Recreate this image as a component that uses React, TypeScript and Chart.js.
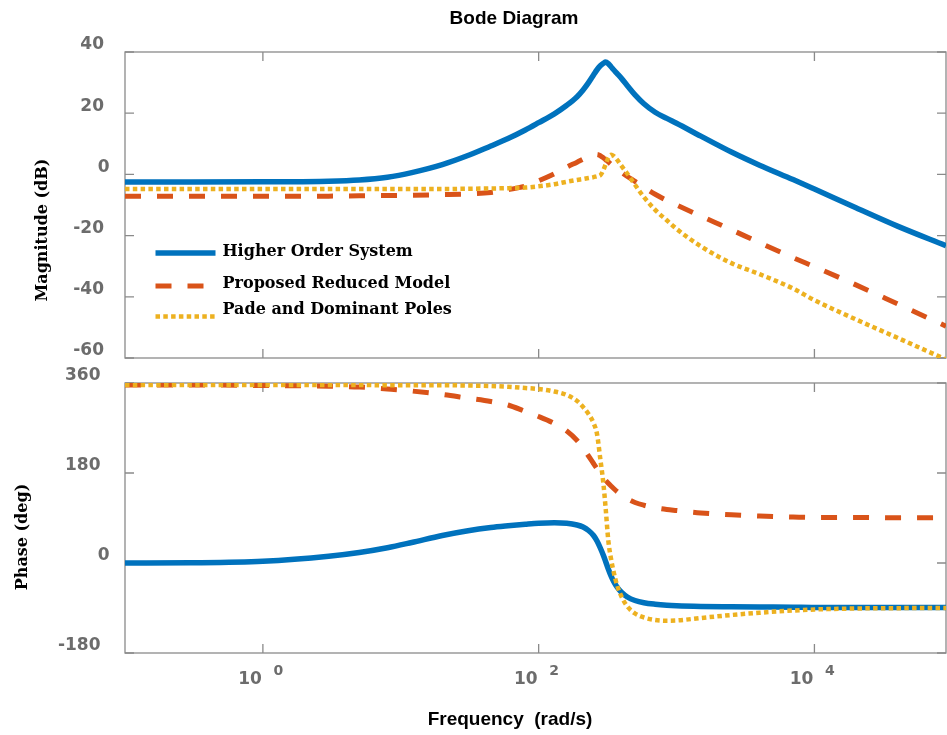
import React, { useEffect, useRef } from 'react';
import { Chart, registerables } from 'chart.js';

Chart.register(...registerables);

// ---------------- DATA ----------------
const frequencies = [
  0.1, 0.3, 1, 3, 5, 8, 12, 20, 30, 45,
  60, 80, 100, 130, 160, 190, 210, 230, 250, 265,
  280, 295, 306, 320, 335, 350, 370, 400, 440, 500,
  580, 700, 850, 1000, 1500, 2500, 4000, 7000, 10000, 20000,
  40000, 90000,
];

const magHigherOrder = [
  -2.5, -2.5, -2.4, -2.2, -1.8, -0.9, 0.6, 3.2, 6.0, 9.3,
  11.7, 14.5, 16.9, 19.8, 22.6, 25.4, 27.6, 30.0, 32.5, 34.2,
  35.5, 36.3, 36.7, 36.2, 35.2, 34.2, 33.0, 31.3, 29.0, 26.0,
  23.1, 20.3, 18.3, 16.7, 12.5, 7.3, 3.0, -1.7, -4.8, -10.9,
  -16.9, -23.3,
];

const magProposed = [
  -7.1, -7.1, -7.1, -7.1, -7.0, -6.9, -6.8, -6.6, -6.4, -5.9,
  -5.0, -3.8, -2.1, 0.2, 2.4, 4.0, 5.0, 5.8, 6.3, 6.5,
  6.1, 5.4, 4.8, 4.1, 3.3, 2.6, 1.7, 0.6, -0.7, -2.3,
  -4.2, -6.5, -8.5, -10.0, -13.6, -18.1, -22.3, -27.2, -30.2, -36.1,
  -42.3, -49.6,
];

const magPade = [
  -4.8, -4.8, -4.8, -4.8, -4.8, -4.8, -4.8, -4.8, -4.7, -4.6,
  -4.5, -4.3, -3.9, -3.2, -2.4, -1.8, -1.5, -1.2, -0.9, -0.6,
  -0.3, 1.5, 3.3, 5.4, 6.4, 6.0, 4.8, 2.7, 0.2, -3.4,
  -7.4, -11.6, -15.0, -17.8, -23.5, -29.0, -32.6, -37.3, -41.1, -47.4,
  -53.4, -60.5,
];

const phaseHigherOrder = [
  0, 0.5, 3.5, 13.5, 21, 30.5, 41, 55, 64, 71,
  74.5, 77.5, 79.5, 80.5, 79.5, 76, 72, 65, 55, 44,
  30, 15, 3, -12, -26, -37, -48, -59, -68, -75,
  -79.5, -82.5, -84.5, -85.5, -86.8, -87.5, -88, -88.5, -89, -89,
  -89, -89,
];

const phaseProposed = [
  356, 356, 355, 353.5, 352, 348, 344, 337, 330, 323,
  316, 303, 293, 279, 264, 245, 230, 214, 199, 188.5,
  179, 171, 165.5, 159.5, 154, 149, 143, 136, 128.5, 121,
  115.5, 110.5, 107, 105, 100, 96.5, 94, 92, 91, 91,
  90.5, 90.5,
];

const phasePade = [
  356, 356, 356, 356, 356, 355.5, 355.5, 355.5, 355, 354,
  352.5, 350, 348, 343, 336, 324, 312, 298, 280, 258,
  208, 158, 110, 45, 8, -18, -44, -68, -87, -101,
  -109, -114, -115.5, -115, -110, -104, -99.5, -95, -93, -91,
  -90.3, -90,
];

const seriesNames = ['Higher Order System', 'Proposed Reduced Model', 'Pade and Dominant Poles'];

const magTicks = [40, 20, 0, -20, -40, -60];
const phaseTicks = [360, 180, 0, -180];
const freqTicks = [1, 100, 10000];
const freqTickBases = ['10', '10', '10'];
const freqTickExps = ['0', '2', '4'];

// ---------------- STYLE ----------------
const COLORS = ['#0072BD', '#D95319', '#EDB120'];
const WIDTHS = [5.5, 5, 4.5];
const DASHES: number[][] = [[], [16, 16], [4.5, 3.3]];
const AXIS_COLOR = '#8a8a8a';
const TICK_TEXT = '#6c6c6c';
const TICK_LEN = 9;
const TICK_FONT = 'bold 17px "DejaVu Sans"';
const SERIF_FONT = 'bold 16px "DejaVu Serif"';
const SANS_TITLE = 'bold 19px "Liberation Sans", Arial, sans-serif';

function makeDatasets(values: number[][]) {
  return values.map((vals, i) => ({
    label: seriesNames[i],
    data: frequencies.map((f, j) => ({ x: f, y: vals[j] })),
    borderColor: COLORS[i],
    backgroundColor: COLORS[i],
    borderWidth: WIDTHS[i],
    borderDash: DASHES[i],
    borderCapStyle: 'butt' as const,
    cubicInterpolationMode: 'monotone' as const,
    pointRadius: 0,
    fill: false,
    clip: 0,
    order: 2 - i,
  }));
}

function drawFrame(chart: any, yTicks: number[]) {
  const { ctx, chartArea: a, scales } = chart;
  ctx.save();
  ctx.strokeStyle = AXIS_COLOR;
  ctx.lineWidth = 1.3;
  ctx.strokeRect(a.left, a.top, a.right - a.left, a.bottom - a.top);
  ctx.beginPath();
  for (const v of freqTicks) {
    const px = scales.x.getPixelForValue(v);
    ctx.moveTo(px, a.top);
    ctx.lineTo(px, a.top + TICK_LEN);
    ctx.moveTo(px, a.bottom);
    ctx.lineTo(px, a.bottom - TICK_LEN);
  }
  for (const v of yTicks) {
    const py = scales.y.getPixelForValue(v);
    ctx.moveTo(a.left, py);
    ctx.lineTo(a.left + TICK_LEN, py);
    ctx.moveTo(a.right, py);
    ctx.lineTo(a.right - TICK_LEN, py);
  }
  ctx.stroke();
  ctx.restore();
}

function drawYLabels(chart: any, yTicks: number[], rightX: number, zeroX: number) {
  const { ctx, scales } = chart;
  ctx.save();
  ctx.font = TICK_FONT;
  ctx.fillStyle = TICK_TEXT;
  ctx.textAlign = 'right';
  ctx.textBaseline = 'middle';
  for (const v of yTicks) {
    const py = scales.y.getPixelForValue(v) - 7;
    ctx.fillText(String(v), v === 0 ? zeroX : rightX, py);
  }
  ctx.restore();
}

function drawRotated(ctx: CanvasRenderingContext2D, text: string, x: number, y: number) {
  ctx.save();
  ctx.translate(x, y);
  ctx.rotate(-Math.PI / 2);
  ctx.font = SERIF_FONT;
  ctx.fillStyle = '#000';
  ctx.textAlign = 'center';
  ctx.textBaseline = 'middle';
  ctx.fillText(text, 0, 0);
  ctx.restore();
}

const magPlugin = {
  id: 'magFrame',
  beforeDatasetsDraw(chart: any) {
    drawFrame(chart, magTicks);
  },
  afterDraw(chart: any) {
    const { ctx } = chart;
    drawYLabels(chart, magTicks, 104, 109.5);
    ctx.save();
    ctx.font = SANS_TITLE;
    ctx.fillStyle = '#000';
    ctx.textAlign = 'center';
    ctx.textBaseline = 'middle';
    ctx.fillText('Bode Diagram', 514, 19);
    ctx.restore();
    drawRotated(ctx, 'Magnitude (dB)', 43, 230);
    const sampleY = [253, 286, 316.5];
    const textY = [252, 283.5, 309.5];
    for (let i = 0; i < 3; i++) {
      ctx.save();
      ctx.strokeStyle = COLORS[i];
      ctx.lineWidth = WIDTHS[i];
      ctx.lineCap = 'butt';
      ctx.setLineDash(DASHES[i]);
      ctx.beginPath();
      ctx.moveTo(155.5, sampleY[i]);
      ctx.lineTo(215.5, sampleY[i]);
      ctx.stroke();
      ctx.restore();
      ctx.save();
      ctx.font = SERIF_FONT;
      ctx.fillStyle = '#000';
      ctx.textAlign = 'left';
      ctx.textBaseline = 'middle';
      ctx.fillText(seriesNames[i], 222.5, textY[i]);
      ctx.restore();
    }
  },
};

const PHASE_TOP = 360;

const phasePlugin = {
  id: 'phaseFrame',
  beforeDatasetsDraw(chart: any) {
    drawFrame(chart, phaseTicks);
  },
  afterDraw(chart: any) {
    const { ctx, scales } = chart;
    drawYLabels(chart, phaseTicks, 100.5, 109.7);
    ctx.save();
    ctx.fillStyle = TICK_TEXT;
    ctx.textBaseline = 'middle';
    freqTicks.forEach((v, i) => {
      const px = scales.x.getPixelForValue(v);
      ctx.font = TICK_FONT;
      ctx.textAlign = 'right';
      ctx.fillText(freqTickBases[i], px - 1, 680 - PHASE_TOP);
      ctx.font = 'bold 14px "DejaVu Sans"';
      ctx.textAlign = 'left';
      ctx.fillText(freqTickExps[i], px + 10.5, 671.5 - PHASE_TOP);
    });
    ctx.restore();
    ctx.save();
    ctx.font = SANS_TITLE;
    ctx.fillStyle = '#000';
    ctx.textAlign = 'center';
    ctx.textBaseline = 'middle';
    ctx.fillText('Frequency  (rad/s)', 510, 720 - PHASE_TOP);
    ctx.restore();
    drawRotated(ctx, 'Phase (deg)', 22.5, 537 - PHASE_TOP);
  },
};

function baseOptions(padding: any, yMin: number, yMax: number) {
  return {
    responsive: false,
    animation: false as const,
    layout: { padding },
    plugins: {
      legend: { display: false },
      tooltip: { enabled: false },
      title: { display: false },
    },
    scales: {
      x: { type: 'logarithmic' as const, min: 0.1, max: 90000, display: false },
      y: { type: 'linear' as const, min: yMin, max: yMax, display: false },
    },
  };
}

export default function App() {
  const magRef = useRef<HTMLCanvasElement>(null);
  const phaseRef = useRef<HTMLCanvasElement>(null);

  useEffect(() => {
    const c1 = new Chart(magRef.current as HTMLCanvasElement, {
      type: 'line',
      data: { datasets: makeDatasets([magHigherOrder, magProposed, magPade]) as any },
      options: baseOptions({ left: 125, right: 1, top: 52, bottom: 12 }, -60, 40) as any,
      plugins: [magPlugin],
    });
    const c2 = new Chart(phaseRef.current as HTMLCanvasElement, {
      type: 'line',
      data: { datasets: makeDatasets([phaseHigherOrder, phaseProposed, phasePade]) as any },
      options: baseOptions({ left: 125, right: 1, top: 383 - PHASE_TOP, bottom: 82 }, -180, 360) as any,
      plugins: [phasePlugin],
    });
    return () => {
      c1.destroy();
      c2.destroy();
    };
  }, []);

  return (
    <div style={{ position: 'absolute', left: 0, top: 0, width: 947, height: 735, background: '#fff' }}>
      <canvas ref={magRef} width={947} height={370} style={{ position: 'absolute', left: 0, top: 0, display: 'block' }} />
      <canvas ref={phaseRef} width={947} height={735 - PHASE_TOP} style={{ position: 'absolute', left: 0, top: PHASE_TOP, display: 'block' }} />
    </div>
  );
}
